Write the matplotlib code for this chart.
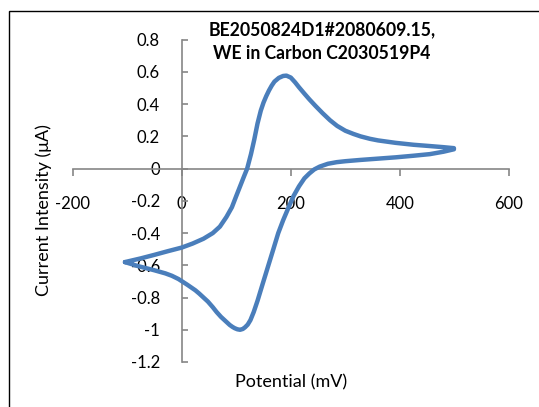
import matplotlib
matplotlib.use("Agg")
import matplotlib.pyplot as plt
from matplotlib.patches import Rectangle

# Zyklovoltammogramm, Werte
fwd_x = [-104, -75, -50, -25, 0, 20, 40, 57, 70, 82, 92, 100, 107, 114, 120, 127,
         133, 139, 145, 150, 155, 160, 165, 170, 178, 186, 192, 200, 208, 215, 225,
         234, 245, 258, 272, 285, 300, 315, 328, 345, 360, 392, 425, 455, 480, 499]
fwd_y = [-0.58, -0.557, -0.535, -0.512, -0.49, -0.465, -0.435, -0.40, -0.36, -0.30,
         -0.24, -0.17, -0.11, -0.05, 0.0, 0.09, 0.18, 0.28, 0.36, 0.41, 0.45, 0.485,
         0.515, 0.54, 0.563, 0.575, 0.577, 0.565, 0.535, 0.505, 0.465, 0.43, 0.39,
         0.345, 0.30, 0.265, 0.235, 0.215, 0.20, 0.185, 0.175, 0.16, 0.148, 0.14,
         0.133, 0.127]
rev_x = [499, 480, 455, 425, 392, 360, 328, 300, 284, 268, 253, 243, 234, 225, 215,
         205, 196, 186, 177, 168, 158, 148, 139, 132, 126, 121, 116, 112, 107, 102,
         97, 93, 88, 80, 72, 64, 57, 48, 40, 32, 25, 10, -6, -18, -30, -51, -80, -104]
rev_y = [0.12, 0.105, 0.09, 0.08, 0.07, 0.062, 0.054, 0.046, 0.04, 0.03, 0.0125,
         -0.005, -0.03, -0.06, -0.11, -0.17, -0.24, -0.32, -0.40, -0.50, -0.61, -0.72,
         -0.82, -0.89, -0.94, -0.968, -0.985, -0.995, -1.0, -0.997, -0.99, -0.982,
         -0.97, -0.945, -0.92, -0.89, -0.86, -0.825, -0.80, -0.775, -0.755, -0.72,
         -0.685, -0.665, -0.65, -0.63, -0.605, -0.58]

x_ticks = [-200, 0, 200, 400, 600]
y_ticks = [-1.2, -1.0, -0.8, -0.6, -0.4, -0.2, 0.0, 0.2, 0.4, 0.6, 0.8]
y_tick_labels = ["-1.2", "-1", "-0.8", "-0.6", "-0.4", "-0.2", "0", "0.2", "0.4", "0.6", "0.8"]

title = "BE2050824D1#2080609.15,\nWE in Carbon C2030519P4"

plt.rcParams['font.family'] = ['Lato', 'DejaVu Sans']
axis_grey = "#868686"

fig = plt.figure(figsize=(5.39, 4.07), dpi=100)
ax = fig.add_axes([72.6 / 539, 1 - 362 / 407, (509 - 72.6) / 539, (362 - 39.7) / 407])

ax.plot(fwd_x + rev_x, fwd_y + rev_y, color="#4A7EBB", lw=3.2,
        solid_joinstyle="round", solid_capstyle="round", zorder=3)

ax.set_xlim(-200, 600)
ax.set_ylim(-1.2, 0.8)
ax.set_xticks(x_ticks)
ax.set_xticklabels([str(v) for v in x_ticks])
ax.set_yticks(y_ticks)
ax.set_yticklabels(y_tick_labels)

# Achsen kreuzen sich im Nullpunkt (Excel-Stil)
ax.spines['left'].set_position(('data', 0))
ax.spines['bottom'].set_position(('data', 0))
ax.spines['right'].set_visible(False)
ax.spines['top'].set_visible(False)
for s in ('left', 'bottom'):
    ax.spines[s].set_color(axis_grey)
    ax.spines[s].set_linewidth(1.2)
    ax.spines[s].set_zorder(2)

ax.tick_params(axis='y', direction='in', length=4.5, width=1.2, color=axis_grey,
               labelsize=12, pad=15.6)
ax.tick_params(axis='x', direction='out', length=5, width=1.2, color=axis_grey,
               labelsize=12, pad=15)
ax.patch.set_visible(False)

fig.text(322 / 539, 1 - 21 / 407, title, ha='center', va='top', fontsize=12.7,
         fontweight='bold', linespacing=1.5)
fig.text(44 / 539, 1 - 210 / 407, "Current Intensity (μA)", rotation=90,
         ha='center', va='center', fontsize=13)
fig.text(291 / 539, 1 - 382 / 407, "Potential (mV)", ha='center', va='center',
         fontsize=13)

# Rahmen des Diagrammbereichs
fig.patches.append(Rectangle((8.5 / 539, -0.2), 1.2, 1.2 - 10.5 / 407,
                             transform=fig.transFigure, fill=False,
                             edgecolor="black", lw=1.0))

fig.savefig("out.png", dpi=100)
